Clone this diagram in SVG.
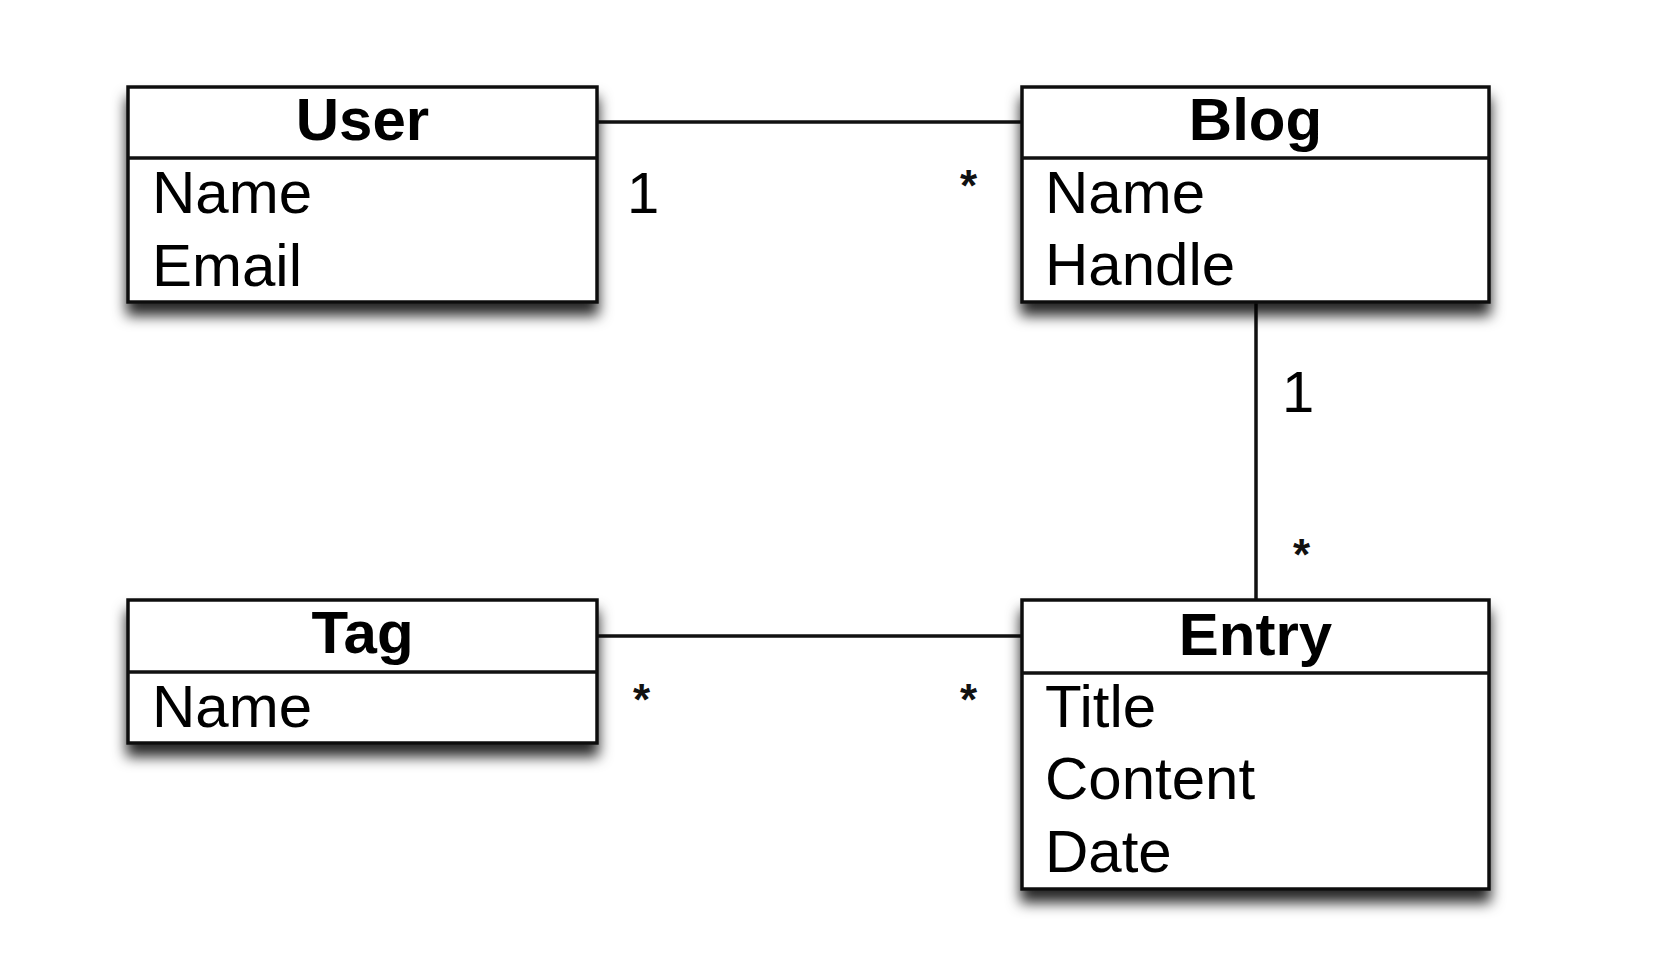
<svg xmlns="http://www.w3.org/2000/svg" width="1653" height="959" viewBox="0 0 1653 959">
<style>
.box{fill:#fff;stroke:#111;stroke-width:3.5}
.div{stroke:#111;stroke-width:3.5}
.title{font-family:"Liberation Sans",Arial,sans-serif;font-weight:bold;font-size:60px;text-anchor:middle;fill:#000}
.attr{font-family:"Liberation Sans",Arial,sans-serif;font-size:60px;fill:#000}
.lbl{font-family:"Liberation Sans",Arial,sans-serif;font-size:58px;fill:#000}
.star{font-family:"Liberation Sans",Arial,sans-serif;font-size:44px;font-weight:bold;fill:#111}
.conn{stroke:#111;stroke-width:3.5;fill:none}
</style>
<defs>
<filter id="sh" x="-10%" y="-10%" width="125%" height="145%">
<feDropShadow dx="0" dy="12" stdDeviation="7" flood-color="#000" flood-opacity="0.85"/>
</filter>
</defs>
<rect width="1653" height="959" fill="#fff"/>
<g id="connectors">
<line class="conn" x1="597" y1="122" x2="1022" y2="122"/>
<line class="conn" x1="597" y1="636" x2="1022" y2="636"/>
<line class="conn" x1="1256" y1="302" x2="1256" y2="600"/>
<text class="lbl" x="627" y="213">1</text>
<text class="star" x="960" y="201">*</text>
<text class="lbl" x="1282" y="412">1</text>
<text class="star" x="1293" y="570">*</text>
<text class="star" x="633" y="715">*</text>
<text class="star" x="960" y="715">*</text>
</g>
<g id="user">
<rect class="box" x="128" y="87" width="469" height="215" filter="url(#sh)"/>
<line class="div" x1="128" y1="158" x2="597" y2="158"/>
<text class="title" x="362.5" y="140">User</text>
<text class="attr" x="152" y="213">Name</text>
<text class="attr" x="152" y="286">Email</text>
</g>
<g id="blog">
<rect class="box" x="1022" y="87" width="467" height="215" filter="url(#sh)"/>
<line class="div" x1="1022" y1="158" x2="1489" y2="158"/>
<text class="title" x="1255.5" y="140">Blog</text>
<text class="attr" x="1045" y="213">Name</text>
<text class="attr" x="1045" y="285">Handle</text>
</g>
<g id="tag">
<rect class="box" x="128" y="600" width="469" height="143" filter="url(#sh)"/>
<line class="div" x1="128" y1="672" x2="597" y2="672"/>
<text class="title" x="362.5" y="653">Tag</text>
<text class="attr" x="152" y="727">Name</text>
</g>
<g id="entry">
<rect class="box" x="1022" y="600" width="467" height="289" filter="url(#sh)"/>
<line class="div" x1="1022" y1="673" x2="1489" y2="673"/>
<text class="title" x="1255.5" y="655">Entry</text>
<text class="attr" x="1045" y="727">Title</text>
<text class="attr" x="1045" y="799">Content</text>
<text class="attr" x="1045" y="872">Date</text>
</g>
</svg>
